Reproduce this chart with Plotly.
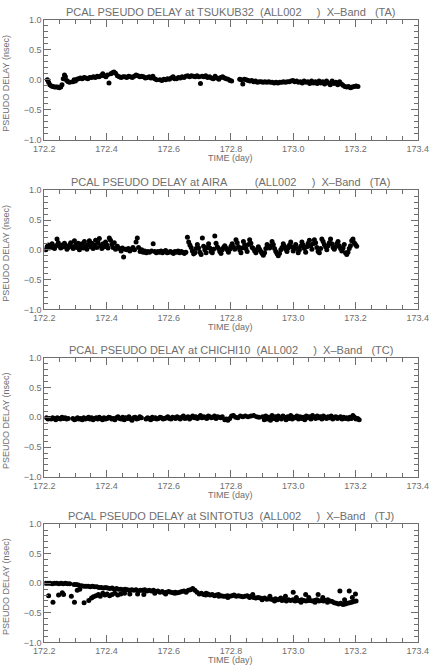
import plotly.graph_objects as go

# ---------------- data ----------------
titles = [
    "PCAL PSEUDO DELAY at TSUKUB32\u00a0\u00a0(ALL002\u00a0\u00a0\u00a0\u00a0\u00a0)\u00a0\u00a0X\u2013Band\u00a0\u00a0\u00a0(TA)",
    "PCAL PSEUDO DELAY at AIRA\u00a0\u00a0\u00a0\u00a0\u00a0\u00a0\u00a0\u00a0\u00a0(ALL002\u00a0\u00a0\u00a0\u00a0\u00a0)\u00a0\u00a0X\u2013Band\u00a0\u00a0\u00a0(TA)",
    "PCAL PSEUDO DELAY at CHICHI10\u00a0\u00a0(ALL002\u00a0\u00a0\u00a0\u00a0\u00a0)\u00a0\u00a0X\u2013Band\u00a0\u00a0\u00a0(TC)",
    "PCAL PSEUDO DELAY at SINTOTU3\u00a0\u00a0(ALL002\u00a0\u00a0\u00a0\u00a0\u00a0)\u00a0\u00a0X\u2013Band\u00a0\u00a0\u00a0(TJ)",
]
x_label = "TIME (day)"
y_label = "PSEUDO DELAY (nsec)"
x_range = [172.2, 173.4]
y_range = [-1.0, 1.0]

tsukub_t = [172.210, 172.214, 172.218, 172.223, 172.228, 172.233, 172.238, 172.243, 172.248, 172.253,
            172.257, 172.261, 172.265, 172.268, 172.272, 172.277, 172.282, 172.292, 172.296, 172.300,
            172.305, 172.310, 172.316, 172.322, 172.328, 172.334, 172.340, 172.346, 172.352, 172.358,
            172.364, 172.370, 172.376, 172.382, 172.388, 172.393, 172.398, 172.403, 172.408, 172.414,
            172.419, 172.424, 172.429, 172.435, 172.441, 172.447, 172.453, 172.459, 172.465, 172.471,
            172.477, 172.483, 172.489, 172.495, 172.501, 172.507, 172.513, 172.519, 172.525, 172.531,
            172.537, 172.543, 172.549, 172.555, 172.561, 172.572, 172.578, 172.584, 172.590, 172.596,
            172.602, 172.608, 172.614, 172.619, 172.625, 172.631, 172.637, 172.643, 172.649, 172.655,
            172.661, 172.667, 172.673, 172.679, 172.685, 172.691, 172.697, 172.702, 172.707, 172.713,
            172.719, 172.725, 172.731, 172.737, 172.743, 172.749, 172.755, 172.761, 172.767, 172.773,
            172.779, 172.785, 172.791, 172.797, 172.802, 172.828, 172.833, 172.838, 172.843, 172.849,
            172.855, 172.861, 172.867, 172.873, 172.879, 172.885, 172.891, 172.897, 172.903, 172.909,
            172.915, 172.921, 172.927, 172.933, 172.939, 172.945, 172.951, 172.957, 172.963, 172.969,
            172.975, 172.981, 172.987, 172.993, 172.999, 173.005, 173.011, 173.017, 173.023, 173.029,
            173.035, 173.041, 173.047, 173.053, 173.059, 173.065, 173.071, 173.077, 173.083, 173.089,
            173.095, 173.101, 173.107, 173.113, 173.119, 173.125, 173.131, 173.137, 173.143, 173.149,
            173.155, 173.160, 173.166, 173.172, 173.178, 173.184, 173.190, 173.196, 173.202, 173.208]
tsukub_d = [0.00, -0.04, -0.08, -0.10, -0.11, -0.12, -0.12, -0.12, -0.13, -0.12,
            -0.08, 0.02, 0.08, 0.05, -0.01, -0.03, -0.04, -0.03, 0.00, -0.02,
            0.01, 0.02, 0.03, 0.02, 0.04, 0.03, 0.02, 0.04, 0.04, 0.05,
            0.04, 0.06, 0.05, 0.07, 0.10, 0.07, 0.05, 0.08, -0.05, 0.10,
            0.12, 0.13, 0.11, 0.07, 0.05, 0.04, 0.05, 0.05, 0.04, 0.06,
            0.05, 0.04, 0.06, 0.08, 0.07, 0.05, 0.06, 0.05, 0.03, 0.04,
            0.05, 0.03, 0.06, 0.02, 0.00, 0.00, -0.01, 0.01, 0.00, 0.02,
            0.01, 0.03, 0.05, 0.02, 0.02, 0.04, 0.03, 0.05, 0.04, 0.06,
            0.07, 0.05, 0.07, 0.06, 0.05, 0.07, 0.05, -0.06, 0.06, 0.05,
            0.07, 0.04, 0.05, 0.03, 0.02, 0.06, 0.03, 0.01, 0.04, 0.05,
            0.03, 0.02, 0.01, -0.01, -0.02, 0.01, 0.00, -0.07, 0.01, 0.00,
            -0.01, -0.02, -0.01, -0.03, -0.02, -0.04, -0.03, -0.03, -0.04, -0.03,
            -0.04, -0.03, -0.04, -0.04, -0.05, -0.04, -0.05, -0.04, -0.04, -0.03,
            -0.04, -0.03, -0.03, -0.02, -0.01, -0.03, -0.02, -0.04, -0.03, -0.05,
            -0.02, -0.04, -0.03, -0.06, -0.02, -0.05, -0.03, -0.06, -0.02, -0.05,
            -0.03, -0.07, -0.02, -0.05, -0.08, -0.02, -0.06, -0.04, -0.08, -0.03,
            -0.07, -0.09, -0.11, -0.12, -0.11, -0.13, -0.12, -0.11, -0.10, -0.11]

aira_t = [172.205, 172.209, 172.213, 172.217, 172.221, 172.225, 172.229, 172.233, 172.237, 172.241,
          172.245, 172.249, 172.253, 172.257, 172.261, 172.265, 172.269, 172.273, 172.277, 172.281,
          172.285, 172.289, 172.293, 172.297, 172.301, 172.305, 172.309, 172.313, 172.317, 172.321,
          172.325, 172.329, 172.333, 172.337, 172.341, 172.345, 172.349, 172.353, 172.357, 172.361,
          172.365, 172.369, 172.373, 172.377, 172.381, 172.385, 172.389, 172.393, 172.397, 172.401,
          172.405, 172.409, 172.413, 172.417, 172.421, 172.425, 172.429, 172.435, 172.441, 172.447,
          172.451, 172.455, 172.460, 172.465, 172.470, 172.475, 172.480, 172.485, 172.490, 172.495,
          172.499, 172.503, 172.508, 172.513, 172.518, 172.523, 172.528, 172.533, 172.538, 172.545,
          172.550, 172.555, 172.560, 172.565, 172.570, 172.575, 172.580, 172.585, 172.590, 172.595,
          172.600, 172.605, 172.610, 172.615, 172.620, 172.625, 172.630, 172.635, 172.640, 172.645,
          172.650, 172.655, 172.660, 172.664, 172.668, 172.672, 172.676, 172.680, 172.684, 172.688,
          172.692, 172.696, 172.700, 172.704, 172.708, 172.712, 172.716, 172.720, 172.724, 172.728,
          172.732, 172.736, 172.740, 172.744, 172.748, 172.752, 172.756, 172.760, 172.764, 172.768,
          172.772, 172.776, 172.780, 172.784, 172.788, 172.792, 172.796, 172.800, 172.804, 172.808,
          172.812, 172.816, 172.820, 172.824, 172.828, 172.832, 172.836, 172.840, 172.844, 172.848,
          172.852, 172.856, 172.860, 172.864, 172.868, 172.872, 172.876, 172.880, 172.884, 172.888,
          172.892, 172.896, 172.900, 172.904, 172.908, 172.912, 172.916, 172.920, 172.924, 172.928,
          172.932, 172.936, 172.940, 172.944, 172.948, 172.952, 172.956, 172.960, 172.964, 172.968,
          172.972, 172.976, 172.980, 172.984, 172.988, 172.992, 172.996, 173.000, 173.004, 173.008,
          173.012, 173.016, 173.020, 173.024, 173.028, 173.032, 173.036, 173.040, 173.044, 173.048,
          173.052, 173.056, 173.060, 173.064, 173.068, 173.072, 173.076, 173.080, 173.084, 173.088,
          173.092, 173.096, 173.100, 173.104, 173.108, 173.112, 173.116, 173.120, 173.124, 173.128,
          173.132, 173.136, 173.140, 173.144, 173.148, 173.152, 173.156, 173.160, 173.164, 173.168,
          173.172, 173.176, 173.180, 173.184, 173.188, 173.192, 173.196, 173.200, 173.204]
aira_d = [0.00, 0.05, 0.08, 0.03, 0.06, 0.10, 0.04, 0.02, 0.07, 0.18,
          0.12, 0.06, 0.03, 0.08, 0.05, 0.11, 0.06, 0.01, 0.04, 0.08,
          0.12, 0.05, 0.02, 0.15, 0.09, 0.04, 0.11, 0.00, 0.06, 0.10,
          0.03, 0.14, 0.07, 0.01, 0.09, 0.15, 0.05, 0.11, 0.02, 0.08,
          0.16, 0.04, 0.12, 0.19, 0.07, 0.02, 0.10, 0.05, 0.13, 0.08,
          0.03, 0.20, 0.16, 0.09, 0.04, 0.12, 0.01, 0.06, 0.02, -0.02,
          0.03, -0.12, 0.01, 0.00, 0.02, -0.02, 0.01, 0.04, 0.00, 0.13,
          0.20, 0.04, -0.03, 0.00, -0.04, -0.02, -0.05, -0.03, -0.04, -0.02,
          0.10, -0.03, -0.05, -0.03, -0.04, -0.02, -0.05, -0.03, -0.01, -0.05,
          -0.04, -0.03, -0.04, -0.06, -0.03, -0.04, -0.02, -0.05, -0.03, -0.04,
          -0.06, -0.04, 0.21, 0.13, 0.08, 0.04, -0.02, -0.07, -0.05, 0.02,
          0.09, 0.03, -0.04, -0.08, 0.20, 0.06, 0.00, -0.05, 0.04, 0.10,
          0.03, -0.03, -0.05, 0.01, 0.23, 0.11, 0.05, 0.02, -0.03, -0.06,
          0.00, 0.04, 0.07, 0.03, 0.00, -0.04, 0.01, 0.06, 0.10, 0.05,
          0.01, 0.17, 0.12, 0.05, 0.00, -0.05, 0.03, 0.14, 0.08, 0.02,
          -0.03, 0.09, 0.17, 0.11, 0.04, 0.02, -0.02, -0.05, 0.00, 0.05,
          0.01, -0.03, -0.06, -0.09, -0.05, 0.02, 0.09, 0.05, 0.03, 0.07,
          0.14, 0.09, 0.02, -0.03, -0.07, -0.10, -0.06, 0.00, 0.04, 0.10,
          0.06, 0.01, -0.03, 0.03, 0.08, 0.13, 0.05, -0.02, 0.03, 0.09,
          0.02, -0.05, 0.00, 0.06, 0.13, 0.08, 0.02, -0.04, 0.05, 0.11,
          0.16, 0.07, 0.01, 0.10, 0.17, 0.12, 0.04, -0.03, -0.05, 0.02,
          0.18, 0.14, 0.09, 0.05, 0.00, 0.07, 0.12, 0.18, 0.10, 0.04,
          0.01, 0.05, 0.10, 0.14, 0.07, 0.02, -0.02, 0.03, 0.09, -0.05,
          -0.08, -0.04, 0.02, 0.07, 0.15, 0.18, 0.12, 0.09, 0.06]

chichi_t = [172.207, 172.212, 172.217, 172.222, 172.227, 172.232, 172.237, 172.242, 172.247, 172.252,
            172.257, 172.262, 172.267, 172.272, 172.277,
            172.292, 172.297, 172.302, 172.307, 172.312, 172.317, 172.322, 172.327, 172.332, 172.337,
            172.342, 172.347, 172.352, 172.357, 172.362, 172.367, 172.372, 172.377, 172.382, 172.387,
            172.392, 172.397, 172.402, 172.407, 172.412, 172.417, 172.422, 172.427, 172.432, 172.437,
            172.442, 172.447, 172.452, 172.457, 172.462, 172.467, 172.472, 172.477, 172.482, 172.487,
            172.492, 172.497, 172.502, 172.507, 172.512,
            172.527, 172.532, 172.537, 172.542, 172.547, 172.552, 172.557, 172.562, 172.567, 172.572,
            172.577, 172.582, 172.587, 172.592, 172.597, 172.602, 172.607, 172.612, 172.617, 172.622,
            172.627, 172.632, 172.637, 172.642, 172.647, 172.652, 172.657, 172.662, 172.667, 172.672,
            172.677, 172.682, 172.687, 172.692, 172.697, 172.702, 172.707, 172.712, 172.717, 172.722,
            172.727, 172.732, 172.737, 172.742, 172.747, 172.752, 172.757, 172.762, 172.767, 172.772,
            172.780, 172.785, 172.790, 172.796, 172.802, 172.808, 172.815, 172.822, 172.830, 172.838,
            172.846, 172.855, 172.864, 172.873, 172.882, 172.890,
            172.902, 172.907, 172.912, 172.917, 172.922, 172.927, 172.932, 172.937, 172.942, 172.947,
            172.952, 172.957, 172.962, 172.967, 172.972, 172.977, 172.982, 172.987, 172.992, 172.997,
            173.002, 173.007, 173.012, 173.017, 173.022, 173.027, 173.032, 173.037, 173.042, 173.047,
            173.052, 173.057, 173.062, 173.067, 173.072, 173.077, 173.082, 173.087, 173.092, 173.097,
            173.102, 173.107, 173.112, 173.117, 173.122, 173.127, 173.132, 173.137, 173.142, 173.147,
            173.152, 173.157, 173.162, 173.167, 173.172, 173.177, 173.182, 173.187, 173.192, 173.197,
            173.202, 173.207, 173.212]
chichi_d = [-0.01, -0.03, -0.02, -0.03, -0.01, -0.02, -0.04, -0.01, -0.02, -0.03,
            0.00, -0.02, -0.01, -0.03, -0.02,
            -0.02, -0.04, -0.03, -0.01, -0.03, -0.02, -0.04, -0.01, -0.03, -0.02,
            0.00, -0.03, -0.01, -0.04, -0.02, -0.01, -0.03, 0.00, -0.02, -0.04,
            -0.01, -0.03, -0.02, 0.00, -0.01, -0.03, -0.02, -0.04, -0.01, 0.01,
            -0.02, -0.03, 0.00, -0.04, -0.01, -0.02, 0.01, -0.03, -0.05, -0.01,
            0.00, -0.03, -0.02, 0.01, -0.01,
            -0.03, -0.01, -0.02, -0.04, 0.00, -0.02, -0.01, -0.03, -0.02, 0.00,
            -0.01, -0.03, -0.02, -0.01, 0.01, -0.02, -0.03, 0.00, -0.01, -0.02,
            0.01, -0.01, -0.03, 0.00, 0.02, -0.02, -0.01, 0.01, -0.03, 0.00,
            0.02, -0.01, 0.01, -0.02, 0.00, 0.03, -0.01, 0.01, 0.00, -0.02,
            0.02, 0.01, -0.01, 0.00, 0.02, -0.02, 0.01, 0.00, -0.01, 0.01,
            -0.04, -0.03, -0.05, -0.02, 0.02, 0.03, 0.00, -0.01, 0.02, 0.01,
            0.02, 0.01, 0.02, 0.03, 0.01, 0.00,
            0.01, -0.04, 0.02, -0.03, 0.00, -0.05, 0.03, -0.02, 0.01, -0.04,
            0.02, -0.01, -0.03, 0.02, 0.00, -0.04, 0.01, -0.02, 0.03, -0.03,
            0.00, -0.01, 0.02, -0.03, 0.01, -0.02, 0.00, -0.04, 0.02, -0.01,
            0.01, -0.03, 0.03, 0.00, -0.02, 0.02, -0.01, 0.01, -0.03, 0.02,
            0.00, -0.02, 0.01, -0.01, 0.02, -0.03, 0.00, 0.01, -0.02, -0.01,
            0.01, -0.03, 0.00, -0.02, -0.01, -0.03, 0.00, -0.02, 0.03, 0.00,
            -0.03, -0.02, -0.04]

sintotu_t = [172.205, 172.212, 172.219, 172.226, 172.233, 172.240, 172.247, 172.254, 172.261, 172.268,
             172.275, 172.282, 172.296, 172.303, 172.310, 172.320, 172.327, 172.334, 172.341, 172.348,
             172.355, 172.362, 172.369, 172.376, 172.383, 172.390, 172.397, 172.404, 172.411, 172.418,
             172.425, 172.432, 172.439, 172.446, 172.453, 172.460, 172.467, 172.474, 172.481, 172.488,
             172.495, 172.502, 172.509, 172.516, 172.523, 172.530, 172.537, 172.544, 172.551, 172.558,
             172.565, 172.572, 172.579, 172.586, 172.593, 172.600, 172.607, 172.614, 172.621, 172.628,
             172.635, 172.642, 172.649, 172.656, 172.663, 172.670, 172.677, 172.684, 172.691, 172.698,
             172.705, 172.712, 172.719, 172.726, 172.733, 172.740, 172.747, 172.754, 172.761, 172.768,
             172.775, 172.782, 172.789, 172.796, 172.803, 172.810, 172.817, 172.824, 172.831, 172.838,
             172.845, 172.852, 172.859, 172.866, 172.873, 172.880, 172.887, 172.894, 172.901, 172.908,
             172.915, 172.922, 172.929, 172.936, 172.943, 172.950, 172.957, 172.964, 172.971, 172.978,
             172.985, 172.992, 172.999, 173.006, 173.013, 173.020, 173.027, 173.034, 173.041, 173.048,
             173.055, 173.062, 173.069, 173.076, 173.083, 173.090, 173.097, 173.104, 173.111, 173.118,
             173.125, 173.132, 173.139, 173.146, 173.153, 173.160, 173.167, 173.174, 173.181, 173.188,
             173.195, 173.202,
             172.214, 172.228, 172.246, 172.258, 172.262, 172.287, 172.297, 172.306, 172.314, 172.328,
             172.343, 172.352, 172.358, 172.366, 172.374, 172.380, 172.388, 172.395, 172.402, 172.410,
             172.418, 172.427, 172.436, 172.446, 172.458, 172.475, 172.500, 172.520, 172.555, 172.590,
             172.620, 172.720, 172.760, 172.790, 172.860, 172.870, 172.900, 172.925, 172.940, 172.960,
             172.975, 173.000, 173.010, 173.025, 173.040, 173.050, 173.070, 173.080, 173.095, 173.110,
             173.150, 173.165, 173.180, 173.190, 173.200]
sintotu_d = [0.00, 0.00, 0.00, -0.01, 0.00, 0.00, -0.01, 0.00, -0.01, 0.00,
             -0.01, -0.01, -0.02, -0.02, -0.03, -0.04, -0.05, -0.05, -0.05, -0.06,
             -0.05, -0.06, -0.06, -0.07, -0.07, -0.08, -0.07, -0.08, -0.09, -0.08,
             -0.10, -0.09, -0.10, -0.10, -0.11, -0.10, -0.11, -0.12, -0.11, -0.12,
             -0.11, -0.13, -0.12, -0.12, -0.11, -0.13, -0.12, -0.13, -0.12, -0.14,
             -0.13, -0.15, -0.14, -0.16, -0.15, -0.14, -0.15, -0.16, -0.15, -0.16,
             -0.15, -0.14, -0.13, -0.15, -0.12, -0.11, -0.09, -0.12, -0.15, -0.18,
             -0.17, -0.19, -0.20, -0.18, -0.20, -0.19, -0.21, -0.20, -0.22, -0.21,
             -0.22, -0.22, -0.21, -0.22, -0.21, -0.20, -0.22, -0.21, -0.22, -0.23,
             -0.22, -0.21, -0.23, -0.22, -0.24, -0.25, -0.24, -0.25, -0.26, -0.25,
             -0.27, -0.26, -0.27, -0.28, -0.26, -0.28, -0.27, -0.29, -0.28, -0.30,
             -0.28, -0.29, -0.28, -0.30, -0.29, -0.29, -0.28, -0.29, -0.30, -0.29,
             -0.29, -0.30, -0.29, -0.28, -0.30, -0.29, -0.30, -0.29, -0.28, -0.30,
             -0.31, -0.33, -0.34, -0.35, -0.34, -0.36, -0.35, -0.34, -0.33, -0.32,
             -0.31, -0.30,
             -0.21, -0.32, -0.20, -0.16, -0.19, -0.22, -0.32, -0.12, -0.10, -0.33,
             -0.29, -0.25, -0.23, -0.21, -0.19, -0.22, -0.17, -0.20, -0.18, -0.21,
             -0.19, -0.17, -0.20, -0.18, -0.17, -0.18, -0.18, -0.19, -0.17, -0.18,
             -0.17, -0.17, -0.19, -0.24, -0.24, -0.19, -0.28, -0.22, -0.30, -0.25,
             -0.22, -0.15, -0.24, -0.32, -0.19, -0.24, -0.32, -0.19, -0.24, -0.32,
             -0.13, -0.28, -0.13, -0.24, -0.18]

series_t = [tsukub_t, aira_t, chichi_t, sintotu_t]
series_d = [tsukub_d, aira_d, chichi_d, sintotu_d]

# ---------------- layout ----------------
W, H = 442, 672
GRAY = "#6e6e6e"
FONT = "Liberation Sans"
x_dom = [35 / W, 428 / W]
panel_px = [(15, 137), (188, 309), (358, 479), (527, 647)]

fig = go.Figure()
layout = dict(
    width=W, height=H, margin=dict(l=0, r=0, t=0, b=0),
    paper_bgcolor="white", plot_bgcolor="white", showlegend=False,
    font=dict(family=FONT, size=9, color=GRAY),
)
annotations = []
for i in range(4):
    n = "" if i == 0 else str(i + 1)
    top, bot = panel_px[i]
    fig.add_trace(go.Scatter(
        x=series_t[i], y=series_d[i], mode="markers",
        marker=dict(color="black", size=5, line=dict(width=0)),
        xaxis="x" + n, yaxis="y" + n, hoverinfo="x+y",
    ))
    common = dict(showline=True, linecolor=GRAY, linewidth=1, mirror="allticks",
                  ticks="inside", tickcolor=GRAY, ticklen=7, tickwidth=1,
                  showgrid=False, zeroline=False, tickformat=".1f",
                  tickfont=dict(family=FONT, size=9, color=GRAY))
    layout["xaxis" + n] = dict(
        domain=x_dom, anchor="y" + n, range=x_range, tick0=172.2, dtick=0.2,
        minor=dict(dtick=0.05, ticks="inside", ticklen=4, tickcolor=GRAY, showgrid=False),
        **common)
    layout["yaxis" + n] = dict(
        domain=[1 - bot / H, 1 - top / H], anchor="x" + n, range=y_range, tick0=-1.0, dtick=0.5,
        minor=dict(dtick=0.1, ticks="inside", ticklen=4, tickcolor=GRAY, showgrid=False),
        **common)
    xr = "x" + n + " domain"
    yr = "y" + n + " domain"
    annotations.append(dict(text=titles[i], x=0.5, y=1, xref=xr, yref=yr,
                            xanchor="center", yanchor="bottom", yshift=0, showarrow=False,
                            font=dict(family=FONT, size=11, color=GRAY)))
    annotations.append(dict(text=x_label, x=0.5, y=0, xref=xr, yref=yr,
                            xanchor="center", yanchor="middle", yshift=-18, showarrow=False,
                            font=dict(family=FONT, size=9, color=GRAY)))
    annotations.append(dict(text=y_label, x=0, y=0.47, xref=xr, yref=yr, textangle=-90,
                            xanchor="center", yanchor="middle", xshift=-38, showarrow=False,
                            font=dict(family=FONT, size=9, color=GRAY)))
layout["annotations"] = annotations
fig.update_layout(**layout)
fig.write_html("out.html", config={"displayModeBar": False},
               post_script="document.body.style.margin='0';document.body.style.overflow='hidden';")
